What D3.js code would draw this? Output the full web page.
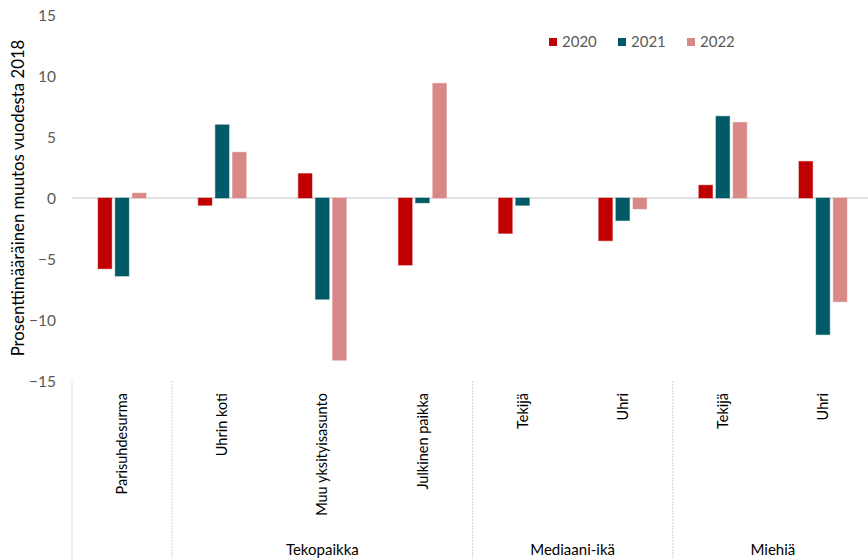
<!DOCTYPE html>
<html><head><meta charset="utf-8">
<script src="https://cdn.jsdelivr.net/npm/d3@7"></script>
<style>html,body{margin:0;padding:0;background:#fff;}svg{display:block;font-family:Lato,"Noto Sans",sans-serif;}</style>
</head><body>
<script>
const categories = ["Parisuhdesurma","Uhrin koti","Muu yksityisasunto","Julkinen paikka","Tekijä","Uhri","Tekijä ","Uhri "];
const categoryLabels = ["Parisuhdesurma","Uhrin koti","Muu yksityisasunto","Julkinen paikka","Tekijä","Uhri","Tekijä","Uhri"];
const groups = [
  {name:"", from:0, to:0},
  {name:"Tekopaikka", from:1, to:3},
  {name:"Mediaani-ikä", from:4, to:5},
  {name:"Miehiä", from:6, to:7}
];
const seriesNames = ["2020","2021","2022"];
const colors = ["#C00000","#005A67","#D98888"];
const values2020 = [-5.8, -0.6, 2.0, -5.5, -2.9, -3.5, 1.05, 3.0];
const values2021 = [-6.4, 6.0, -8.3, -0.4, -0.6, -1.85, 6.7, -11.2];
const values2022 = [0.4, 3.75, -13.3, 9.4, 0, -0.9, 6.2, -8.5];
const yTicks = [15,10,5,0,-5,-10,-15];
const yTitle = "Prosenttimääräinen muutos vuodesta 2018";

const W = 868, H = 559;
const svg = d3.select("body").append("svg").attr("width",W).attr("height",H);

const y = d3.scaleLinear().domain([-15,15]).range([381,15]);
const x = d3.scaleBand().domain(categories).range([72,873]).paddingInner(0).paddingOuter(0);
const xs = d3.scaleBand().domain(seriesNames).range([x.bandwidth()/2-24, x.bandwidth()/2+24]).paddingInner(0.2);

const allSeries = [values2020, values2021, values2022];

// y axis labels
const yAxis = d3.axisLeft(y).tickValues(yTicks).tickSize(0).tickPadding(0).tickFormat(d3.format("d"));
const ga = svg.append("g").attr("transform","translate(56,0)").call(yAxis);
ga.select(".domain").remove();
ga.selectAll("text").attr("fill","#595959").style("font-size","15.5px").style("font-family","Lato,'Noto Sans',sans-serif").attr("dy","0.35em");

// y title
svg.append("text").attr("transform","translate(18,198) rotate(-90)").attr("text-anchor","middle")
  .attr("dy","0.35em").style("font-size","16.8px").attr("fill","#000").text(yTitle);

// zero line
svg.append("line").attr("x1",72).attr("x2",873).attr("y1",y(0)).attr("y2",y(0))
  .attr("stroke","#D9D9D9").attr("stroke-width",1.5);

// bars
allSeries.forEach((vals,si)=>{
  svg.append("g").selectAll("rect").data(vals).join("rect")
    .attr("x",(d,i)=>x(categories[i])+xs(seriesNames[si]))
    .attr("width",xs.bandwidth())
    .attr("y",d=>y(Math.max(0,d)))
    .attr("height",d=>Math.abs(y(d)-y(0)))
    .attr("fill",colors[si])
    .attr("stroke",colors[si]).attr("stroke-opacity",0.45).attr("stroke-width",1);
});

// separators
const sepX = [0,1,4,6].map(i=>x(categories[i]));
svg.append("g").selectAll("line").data(sepX).join("line")
  .attr("x1",d=>d).attr("x2",d=>d).attr("y1",381).attr("y2",H)
  .attr("stroke","#D9D9D9").attr("stroke-width",1.2).attr("stroke-dasharray","2,1");

// category labels
svg.append("g").selectAll("text").data(categoryLabels).join("text")
  .attr("transform",(d,i)=>`translate(${x(categories[i])+x.bandwidth()/2},393) rotate(-90)`)
  .attr("text-anchor","end").attr("dy","0.35em")
  .style("font-size","14.5px").attr("fill","#000").text(d=>d);

// group labels
svg.append("g").selectAll("text").data(groups.filter(g=>g.name)).join("text")
  .attr("x",g=>(x(categories[g.from])+x(categories[g.to])+x.bandwidth())/2)
  .attr("y",555).attr("text-anchor","middle")
  .style("font-size","15px").attr("fill","#000").text(g=>g.name);

// legend
const legX = [549,618,687];
const lg = svg.append("g").selectAll("g").data(seriesNames).join("g")
  .attr("transform",(d,i)=>`translate(${legX[i]},42)`);
lg.append("rect").attr("x",0).attr("y",-4).attr("width",8).attr("height",8).attr("fill",(d,i)=>colors[i]);
lg.append("text").attr("x",13).attr("dy","0.35em").style("font-size","15px").attr("fill","#595959").text(d=>d);
</script>
</body></html>
